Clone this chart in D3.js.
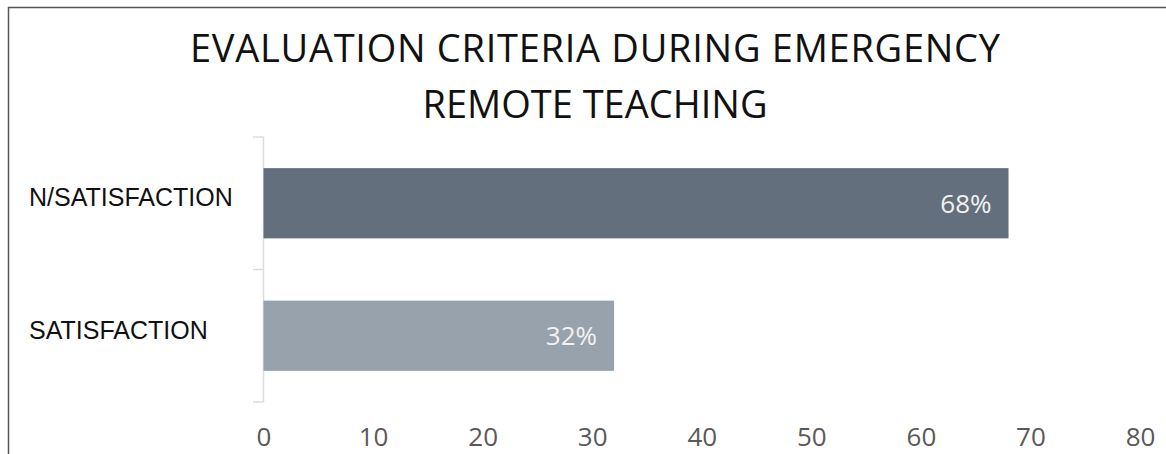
<!DOCTYPE html>
<html><head><meta charset="utf-8">
<script src="https://cdn.jsdelivr.net/npm/d3@7"></script>
<style>html,body{margin:0;padding:0;background:#fff;}svg{display:block;}</style>
</head><body>
<svg id="chart" width="1166" height="454"></svg>
<script>
const categories = ["N/SATISFACTION", "SATISFACTION"];
const values = [68, 32];
const valueLabels = ["68%", "32%"];
const barColors = ["#646f7e", "#98a2ac"];
const xTicks = [0, 10, 20, 30, 40, 50, 60, 70, 80];
const titleLines = ["EVALUATION CRITERIA DURING EMERGENCY", "REMOTE TEACHING"];

const svg = d3.select("#chart");
const W = 1166, H = 454;
svg.append("rect").attr("width", W).attr("height", H).attr("fill", "#fff");

// frame (top and left border)
svg.append("line").attr("x1", 8).attr("x2", W).attr("y1", 7.5).attr("y2", 7.5).attr("stroke", "#555").attr("stroke-width", 1.5);
svg.append("line").attr("x1", 8.5).attr("x2", 8.5).attr("y1", 7).attr("y2", H).attr("stroke", "#555").attr("stroke-width", 1.5);

// title
svg.append("g").selectAll("text").data(titleLines).join("text")
  .attr("x", 595).attr("y", (d, i) => 62 + i * 56)
  .attr("text-anchor", "middle")
  .attr("font-family", "'Open Sans', 'Noto Sans', sans-serif")
  .attr("font-size", 38).attr("fill", "#111")
  .attr("textLength", (d, i) => i === 0 ? 810 : null)
  .text(d => d);

const x = d3.scaleLinear().domain([0, 80]).range([263.5, 1140]);
const y = d3.scaleBand().domain(categories).range([137, 402]).paddingInner(0.47).paddingOuter(0.235);

// category axis line with ticks at band boundaries
const bounds = [137, 269.5, 402];
svg.append("line").attr("x1", 263.5).attr("x2", 263.5).attr("y1", 137).attr("y2", 402).attr("stroke", "#dcdcdc").attr("stroke-width", 1.5);
svg.append("g").selectAll("line").data(bounds).join("line")
  .attr("x1", 253).attr("x2", 263.5).attr("y1", d => d).attr("y2", d => d)
  .attr("stroke", "#dcdcdc").attr("stroke-width", 1.5);

// bars
svg.append("g").selectAll("rect").data(categories).join("rect")
  .attr("x", x(0)).attr("y", d => y(d))
  .attr("width", (d, i) => x(values[i]) - x(0))
  .attr("height", y.bandwidth())
  .attr("fill", (d, i) => barColors[i]);

// value labels
svg.append("g").selectAll("text").data(categories).join("text")
  .attr("x", (d, i) => x(values[i]) - 17)
  .attr("y", d => y(d) + y.bandwidth() / 2)
  .attr("dy", "0.36em")
  .attr("text-anchor", "end")
  .attr("font-family", "'Open Sans', 'Noto Sans', sans-serif")
  .attr("font-size", 26).attr("fill", "#f2f2f2")
  .text((d, i) => valueLabels[i]);

// category labels
svg.append("g").selectAll("text").data(categories).join("text")
  .attr("x", 29)
  .attr("y", d => y(d) + y.bandwidth() / 2 - 6)
  .attr("dy", "0.36em")
  .attr("font-family", "'Liberation Sans', Arial, sans-serif")
  .attr("font-size", 25).attr("fill", "#111")
  .text(d => d);

// x axis
const xAxis = d3.axisBottom(x).tickValues(xTicks).tickSize(0).tickPadding(0);
const gx = svg.append("g").attr("transform", "translate(0,428)").call(xAxis);
gx.select(".domain").remove();
gx.selectAll("text")
  .attr("font-family", "'Open Sans', 'Noto Sans', sans-serif")
  .attr("font-size", 26).attr("fill", "#595959")
  .attr("dy", "0.71em");
</script>
</body></html>
